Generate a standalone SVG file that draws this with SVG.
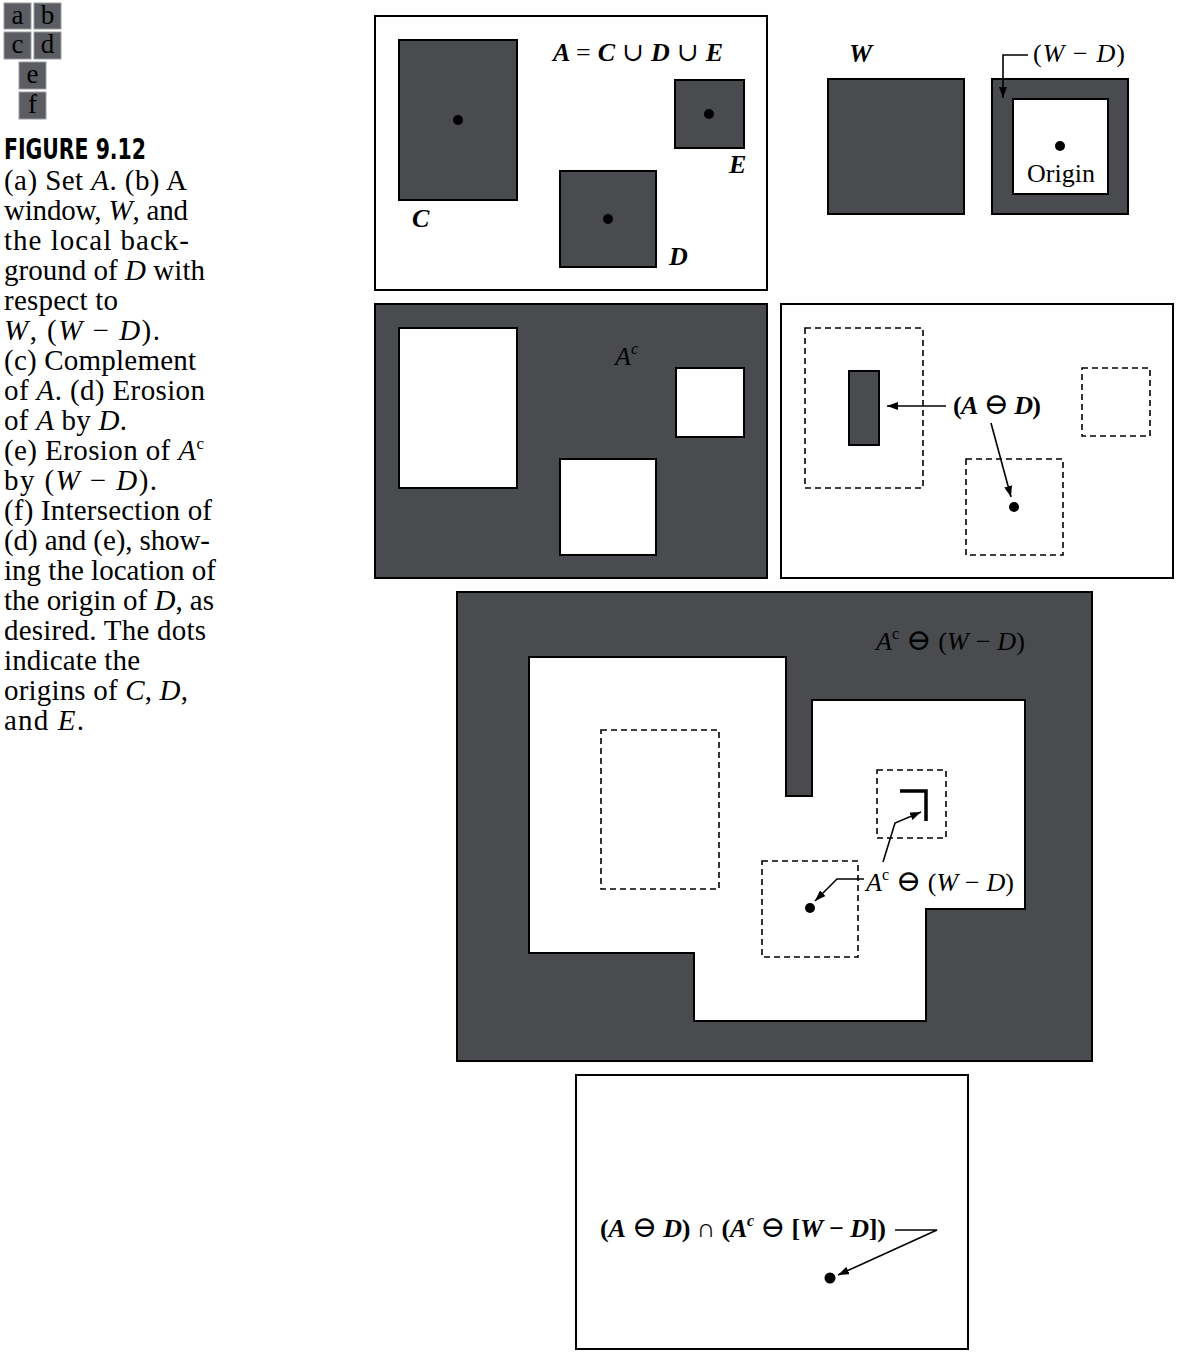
<svg xmlns="http://www.w3.org/2000/svg" width="1182" height="1356" viewBox="0 0 1182 1356">
<style>
.dk{fill:#4a4b4e;stroke:#000;stroke-width:2}
.wh{fill:#fff;stroke:#000;stroke-width:2}
.ds{fill:none;stroke:#000;stroke-width:1.6;stroke-dasharray:6 4}
.ln{fill:none;stroke:#000;stroke-width:1.6}
.cap{font-family:"Liberation Serif","DejaVu Serif",serif;font-size:29px;fill:#000}
.lab{font-family:"Liberation Serif","DejaVu Serif",serif;font-size:26px;fill:#000}
.it{font-style:italic}
.bd{font-weight:bold}
.om{font-weight:normal;font-style:normal}
.lg{fill:#5b5d63;stroke:#9a9ca0;stroke-width:1}
.lgt{font-family:"Liberation Serif",serif;font-size:27px;fill:#000;text-anchor:middle}
</style>
<defs>
<marker id="ah" markerUnits="userSpaceOnUse" markerWidth="12" markerHeight="8" refX="11" refY="4" orient="auto">
<path d="M0,0 L11,4 L0,8 Z" fill="#000"/>
</marker>
</defs>
<rect width="1182" height="1356" fill="#fff"/>

<g id="legend">
<rect class="lg" x="4" y="3" width="27" height="26"/><text class="lgt" x="17.5" y="24">a</text>
<rect class="lg" x="34" y="3" width="27" height="26"/><text class="lgt" x="47.5" y="24">b</text>
<rect class="lg" x="4" y="32" width="27" height="27"/><text class="lgt" x="17.5" y="53">c</text>
<rect class="lg" x="34" y="32" width="27" height="27"/><text class="lgt" x="47.5" y="53">d</text>
<rect class="lg" x="19" y="62" width="27" height="27"/><text class="lgt" x="32.5" y="83">e</text>
<rect class="lg" x="19" y="92" width="27" height="27"/><text class="lgt" x="32.5" y="113">f</text>
</g>

<g id="caption">
<text x="4" y="159" font-family="'DejaVu Sans Condensed','DejaVu Sans',sans-serif" font-weight="bold" font-size="28" textLength="142" lengthAdjust="spacingAndGlyphs">FIGURE 9.12</text>
<text class="cap" x="4" y="190" textLength="183" lengthAdjust="spacing">(a) Set <tspan class="it">A</tspan>. (b) A</text>
<text class="cap" x="4" y="220" textLength="184" lengthAdjust="spacing">window, <tspan class="it">W</tspan>, and</text>
<text class="cap" x="4" y="250" textLength="185" lengthAdjust="spacing">the local back-</text>
<text class="cap" x="4" y="280" textLength="201" lengthAdjust="spacing">ground of <tspan class="it">D</tspan> with</text>
<text class="cap" x="4" y="310" textLength="114" lengthAdjust="spacing">respect to</text>
<text class="cap" x="4" y="340" textLength="156" lengthAdjust="spacing"><tspan class="it">W</tspan>, (<tspan class="it">W</tspan> − <tspan class="it">D</tspan>).</text>
<text class="cap" x="4" y="370" textLength="192" lengthAdjust="spacing">(c) Complement</text>
<text class="cap" x="4" y="400" textLength="201" lengthAdjust="spacing">of <tspan class="it">A</tspan>. (d) Erosion</text>
<text class="cap" x="4" y="430" textLength="123" lengthAdjust="spacing">of <tspan class="it">A</tspan> by <tspan class="it">D</tspan>.</text>
<text class="cap" x="4" y="460" textLength="200" lengthAdjust="spacing">(e) Erosion of <tspan class="it">A</tspan><tspan font-size="17" dy="-11">c</tspan></text>
<text class="cap" x="4" y="490" textLength="153" lengthAdjust="spacing">by (<tspan class="it">W</tspan> − <tspan class="it">D</tspan>).</text>
<text class="cap" x="4" y="520" textLength="208" lengthAdjust="spacing">(f) Intersection of</text>
<text class="cap" x="4" y="550" textLength="206" lengthAdjust="spacing">(d) and (e), show-</text>
<text class="cap" x="4" y="580" textLength="212" lengthAdjust="spacing">ing the location of</text>
<text class="cap" x="4" y="610" textLength="210" lengthAdjust="spacing">the origin of <tspan class="it">D</tspan>, as</text>
<text class="cap" x="4" y="640" textLength="202" lengthAdjust="spacing">desired. The dots</text>
<text class="cap" x="4" y="670" textLength="136" lengthAdjust="spacing">indicate the</text>
<text class="cap" x="4" y="700" textLength="184" lengthAdjust="spacing">origins of <tspan class="it">C</tspan>, <tspan class="it">D</tspan>,</text>
<text class="cap" x="4" y="730" textLength="80" lengthAdjust="spacing">and <tspan class="it">E</tspan>.</text>
</g>

<g id="panel-a">
<rect class="wh" x="375" y="16" width="392" height="274"/>
<rect class="dk" x="399" y="40" width="118" height="160"/>
<rect class="dk" x="675" y="80" width="69" height="68"/>
<rect class="dk" x="560" y="171" width="96" height="96"/>
<circle cx="458" cy="120" r="5" fill="#000"/>
<circle cx="709" cy="114" r="5" fill="#000"/>
<circle cx="608" cy="219" r="5" fill="#000"/>
<text class="lab it bd" x="553" y="61" textLength="170" lengthAdjust="spacing">A <tspan class="om">=</tspan> C <tspan class="om">∪</tspan> D <tspan class="om">∪</tspan> E</text>
<text class="lab it bd" x="412" y="227">C</text>
<text class="lab it bd" x="729" y="173">E</text>
<text class="lab it bd" x="669" y="265">D</text>
</g>

<g id="panel-b">
<text class="lab it bd" x="849" y="62">W</text>
<rect class="dk" x="828" y="79" width="136" height="135"/>
<rect class="dk" x="992" y="79" width="136" height="135"/>
<rect class="wh" x="1013" y="99" width="95" height="95"/>
<circle cx="1060" cy="146" r="5" fill="#000"/>
<text class="lab" x="1027" y="182" textLength="68" lengthAdjust="spacing">Origin</text>
<text class="lab" x="1033" y="62" textLength="92" lengthAdjust="spacing">(<tspan class="it">W</tspan> − <tspan class="it">D</tspan>)</text>
</g>

<g id="panel-c">
<rect class="dk" x="375" y="304" width="392" height="274"/>
<rect class="wh" x="399" y="328" width="118" height="160"/>
<rect class="wh" x="676" y="368" width="68" height="69"/>
<rect class="wh" x="560" y="459" width="96" height="96"/>
<text class="lab it" x="615" y="365">A<tspan font-size="16" dy="-11">c</tspan></text>
</g>

<g id="panel-d">
<rect class="wh" x="781" y="304" width="392" height="274"/>
<rect class="ds" x="805" y="328" width="118" height="160"/>
<rect class="ds" x="1082" y="368" width="68" height="68"/>
<rect class="ds" x="966" y="459" width="97" height="96"/>
<rect class="dk" x="849" y="371" width="30" height="74"/>
<circle cx="1014" cy="507" r="5" fill="#000"/>
<text class="lab bd" x="953" y="414" textLength="88" lengthAdjust="spacing">(<tspan class="it">A</tspan> <tspan class="om" font-size="30">⊖</tspan> <tspan class="it">D</tspan>)</text>
</g>

<g id="panel-e">
<rect class="dk" x="457" y="592" width="635" height="469"/>
<path class="wh" d="M529,657 H786 V796 H812 V700 H1025 V909 H926 V1021 H694 V953 H529 Z"/>
<rect class="ds" x="601" y="730" width="118" height="159"/>
<rect class="ds" x="877" y="770" width="69" height="68"/>
<rect class="ds" x="762" y="861" width="96" height="96"/>
<path d="M900,791 H926 V821" fill="none" stroke="#000" stroke-width="3.5"/>
<circle cx="810" cy="908" r="5" fill="#000"/>
<text class="lab" x="876" y="650" textLength="149" lengthAdjust="spacing"><tspan class="it">A</tspan><tspan font-size="16" dy="-11">c</tspan><tspan dy="11"> </tspan><tspan font-size="30">⊖</tspan> (<tspan class="it">W</tspan> − <tspan class="it">D</tspan>)</text>
<text class="lab" x="866" y="891" textLength="148" lengthAdjust="spacing"><tspan class="it">A</tspan><tspan font-size="16" dy="-11">c</tspan><tspan dy="11"> </tspan><tspan font-size="30">⊖</tspan> (<tspan class="it">W</tspan> − <tspan class="it">D</tspan>)</text>
</g>

<g id="panel-f">
<rect class="wh" x="576" y="1075" width="392" height="274"/>
<circle cx="830" cy="1278" r="5.5" fill="#000"/>
<text class="lab bd" x="600" y="1237" textLength="286" lengthAdjust="spacing">(<tspan class="it">A</tspan> <tspan class="om" font-size="30">⊖</tspan> <tspan class="it">D</tspan>) <tspan class="om">∩</tspan> (<tspan class="it">A</tspan><tspan font-size="16" dy="-11" class="it">c</tspan><tspan dy="11"> </tspan><tspan class="om" font-size="30">⊖</tspan> [<tspan class="it">W</tspan> − <tspan class="it">D</tspan>])</text>
</g>

<g id="connectors">
<path class="ln" d="M1028,55 H1003 V98" marker-end="url(#ah)"/>
<path class="ln" d="M946,406 L887,406" marker-end="url(#ah)"/>
<path class="ln" d="M991,423 L1011,497" marker-end="url(#ah)"/>
<path class="ln" d="M883,862 L895,823 L921,812" marker-end="url(#ah)"/>
<path class="ln" d="M864,879 H837 L815,901" marker-end="url(#ah)"/>
<path class="ln" d="M895,1230 H937 L838,1275" marker-end="url(#ah)"/>
</g>
</svg>
